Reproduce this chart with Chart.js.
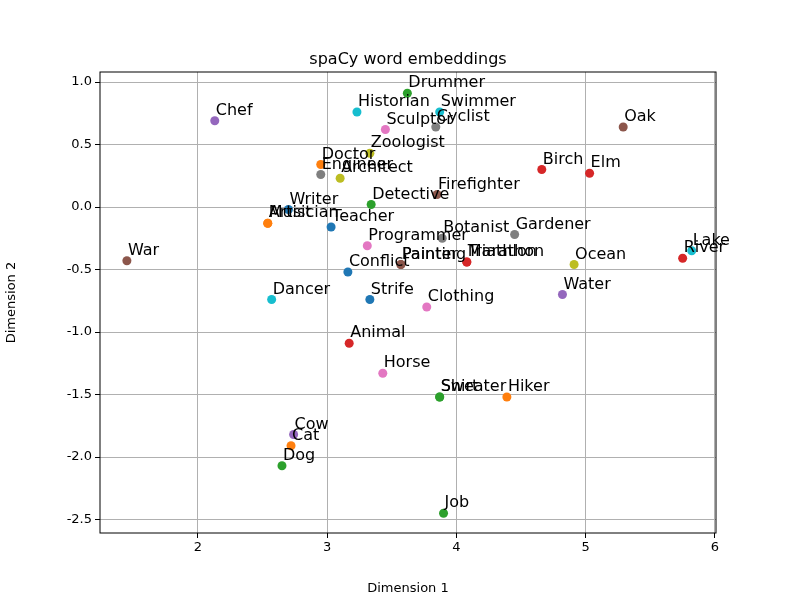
<!DOCTYPE html>
<html>
<head>
<meta charset="utf-8">
<script src="https://cdn.jsdelivr.net/npm/chart.js@4"></script>
<style>
  body { margin: 0; background: #fff; }
  #wrap { width: 800px; height: 600px; }
</style>
</head>
<body>
<div id="wrap"><canvas id="chart" width="800" height="600"></canvas></div>
<script>
const words = ['Chef','Drummer','Historian','Swimmer','Sculptor','Cyclist','Oak','Zoologist','Doctor','Engineer',
  'Architect','Birch','Elm','Detective','Firefighter','Writer','Artist','Musician','Teacher','Botanist',
  'Gardener','Programmer','Painter','Painting','Triathlon','Marathon','Conflict','Ocean','River','Lake',
  'War','Dancer','Strife','Clothing','Water','Animal','Horse','Shirt','Sweater','Hiker',
  'Cow','Cat','Dog','Job'];
const dim1 = [2.13,3.62,3.23,3.87,3.45,3.84,5.29,3.33,2.95,2.95,
  3.10,4.66,5.03,3.34,3.85,2.70,2.54,2.54,3.03,3.89,
  4.45,3.31,3.57,3.57,4.08,4.08,3.16,4.91,5.75,5.82,
  1.45,2.57,3.33,3.77,4.82,3.17,3.43,3.87,3.87,4.39,
  2.74,2.72,2.65,3.90];
const dim2 = [0.69,0.91,0.76,0.76,0.62,0.64,0.64,0.43,0.34,0.26,
  0.23,0.30,0.27,0.02,0.10,-0.02,-0.13,-0.13,-0.16,-0.25,
  -0.22,-0.31,-0.46,-0.46,-0.44,-0.44,-0.52,-0.46,-0.41,-0.35,
  -0.43,-0.74,-0.74,-0.80,-0.70,-1.09,-1.33,-1.52,-1.52,-1.52,
  -1.82,-1.91,-2.07,-2.45];
const pointColors = ['#9467bd','#2ca02c','#17becf','#17becf','#e377c2','#7f7f7f','#8c564b','#bcbd22','#ff7f0e','#7f7f7f',
  '#bcbd22','#d62728','#d62728','#2ca02c','#8c564b','#1f77b4','#ff7f0e','#ff7f0e','#1f77b4','#7f7f7f',
  '#7f7f7f','#e377c2','#8c564b','#8c564b','#d62728','#d62728','#1f77b4','#bcbd22','#d62728','#17becf',
  '#8c564b','#17becf','#1f77b4','#e377c2','#9467bd','#d62728','#e377c2','#2ca02c','#2ca02c','#ff7f0e',
  '#9467bd','#ff7f0e','#2ca02c','#2ca02c'];

const points = words.map((w, i) => ({ x: dim1[i], y: dim2[i] }));

const labelPlugin = {
  id: 'labels',
  afterDatasetsDraw(chart) {
    const ctx = chart.ctx;
    const meta = chart.getDatasetMeta(0);
    ctx.save();
    ctx.font = '16px "DejaVu Sans"';
    ctx.fillStyle = '#000';
    ctx.textBaseline = 'alphabetic';
    meta.data.forEach((el, i) => {
      ctx.fillText(words[i], el.x + 1, el.y - 6);
    });
    ctx.font = '16px "DejaVu Sans"';
    ctx.textAlign = 'center';
    const a = chart.chartArea;
    ctx.fillText('spaCy word embeddings', (a.left + a.right) / 2, a.top - 8);
    ctx.strokeStyle = '#000';
    ctx.lineWidth = 1;
    ctx.strokeRect(a.left, a.top, a.right - a.left, a.bottom - a.top);
    ctx.restore();
  }
};

new Chart(document.getElementById('chart'), {
  type: 'scatter',
  data: { datasets: [{ data: points, pointBackgroundColor: pointColors, pointBorderWidth: 0, pointRadius: 4.5 }] },
  options: {
    responsive: false,
    animation: false,
    layout: { padding: { top: 72, right: 84, left: 0, bottom: 0 } },
    plugins: { legend: { display: false }, tooltip: { enabled: false } },
    scales: {
      x: {
        min: 1.242, max: 6.008,
        afterFit(s) { s.height = 67; },
        afterBuildTicks(s) { s.ticks = [2,3,4,5,6].map(v => ({ value: v })); },
        grid: { color: '#b0b0b0', tickColor: '#000', tickLength: 5 },
        border: { display: false },
        ticks: { color: '#000', font: { family: 'DejaVu Sans', size: 13 }, padding: 2, maxRotation: 0 },
        title: { display: true, text: 'Dimension 1', color: '#000', font: { family: 'DejaVu Sans', size: 13 }, padding: { top: 4 } }
      },
      y: {
        min: -2.608, max: 1.08,
        afterFit(s) { s.width = 100; },
        afterBuildTicks(s) { s.ticks = [-2.5,-2,-1.5,-1,-0.5,0,0.5,1].map(v => ({ value: v })); },
        grid: { color: '#b0b0b0', tickColor: '#000', tickLength: 5 },
        border: { display: false },
        ticks: { color: '#000', font: { family: 'DejaVu Sans', size: 13 }, padding: 3,
          callback: v => v.toFixed(1) },
        title: { display: true, text: 'Dimension 2', color: '#000', font: { family: 'DejaVu Sans', size: 13 }, padding: { bottom: 6 } }
      }
    }
  },
  plugins: [labelPlugin]
});
</script>
</body>
</html>
